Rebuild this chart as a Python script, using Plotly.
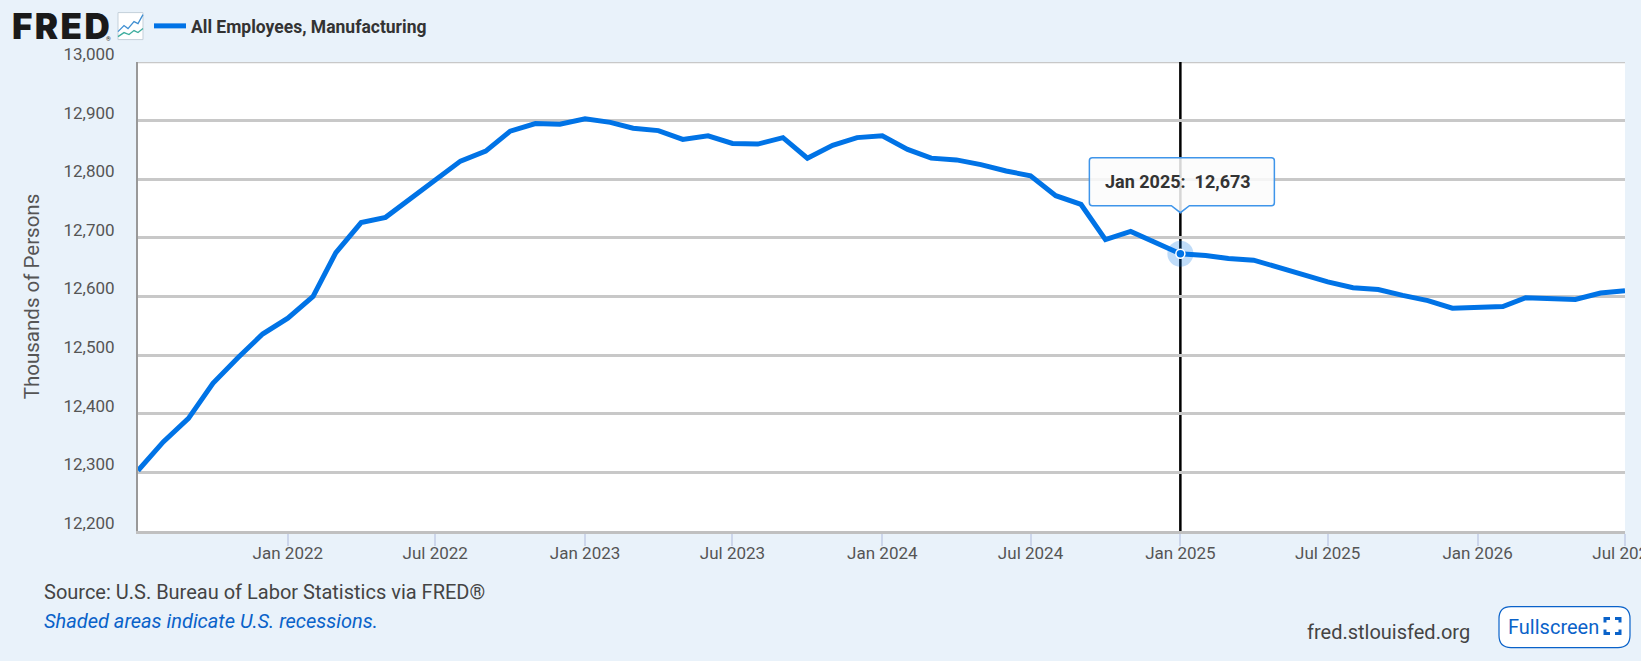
import plotly.graph_objects as go

W, H = 1641, 661
L, R, T, B = 138, 1625, 62.4, 531.4

months = [
    "2021-07-01", "2021-08-01", "2021-09-01", "2021-10-01", "2021-11-01", "2021-12-01",
    "2022-01-01", "2022-02-01", "2022-03-01", "2022-04-01", "2022-05-01", "2022-06-01",
    "2022-07-01", "2022-08-01", "2022-09-01", "2022-10-01", "2022-11-01", "2022-12-01",
    "2023-01-01", "2023-02-01", "2023-03-01", "2023-04-01", "2023-05-01", "2023-06-01",
    "2023-07-01", "2023-08-01", "2023-09-01", "2023-10-01", "2023-11-01", "2023-12-01",
    "2024-01-01", "2024-02-01", "2024-03-01", "2024-04-01", "2024-05-01", "2024-06-01",
    "2024-07-01", "2024-08-01", "2024-09-01", "2024-10-01", "2024-11-01", "2024-12-01",
    "2025-01-01", "2025-02-01", "2025-03-01", "2025-04-01", "2025-05-01", "2025-06-01",
    "2025-07-01", "2025-08-01", "2025-09-01", "2025-10-01", "2025-11-01", "2025-12-01",
    "2026-01-01", "2026-02-01", "2026-03-01", "2026-04-01", "2026-05-01", "2026-06-01",
    "2026-07-01",
]
employees = [
    12303, 12352, 12392, 12452, 12496, 12536,
    12563, 12600, 12675, 12726, 12735, 12767,
    12799, 12831, 12848, 12882, 12895, 12894,
    12903, 12897, 12887, 12883, 12868, 12874,
    12861, 12860, 12871, 12836, 12858, 12871,
    12874, 12851, 12836, 12833, 12825, 12814,
    12806, 12772, 12757, 12697, 12711, 12693,
    12673, 12670, 12665, 12662, 12650, 12636,
    12625, 12615, 12612, 12602, 12593, 12580,
    12582, 12583, 12598, 12597, 12595, 12606,
    12610,
]

xtick_vals = ["2022-01-01", "2022-07-01", "2023-01-01", "2023-07-01", "2024-01-01",
              "2024-07-01", "2025-01-01", "2025-07-01", "2026-01-01", "2026-07-01"]
xtick_text = ["Jan 2022", "Jul 2022", "Jan 2023", "Jul 2023", "Jan 2024",
              "Jul 2024", "Jan 2025", "Jul 2025", "Jan 2026", "Jul 2026"]
ytick_vals = [12200, 12300, 12400, 12500, 12600, 12700, 12800, 12900, 13000]

picked_month = "2025-01-01"
picked_value = employees[months.index(picked_month)]

BG = "#e9f2fa"
BLUE = "#0073e6"
LINK = "#0a62c9"
GRID = "#c8c8c8"
FONT = "Roboto"


def px(x):
    return (x - L) / (R - L)


def py(y):
    return (B - y) / (B - T)


def page_text(x, y, text, size=20, color="#444444", anchor="left", family=FONT, weight="normal"):
    return dict(xref="paper", yref="paper", x=px(x), y=py(y), text=text, showarrow=False,
                xanchor=anchor, yanchor="middle",
                font=dict(family=family, size=size, color=color, weight=weight))


def page_shape(path, **kw):
    # path given in page pixels
    parts = []
    for tok in path.split():
        if "," in tok:
            a, b = tok.split(",")
            parts.append(f"{px(float(a)):.5f},{py(float(b)):.5f}")
        else:
            parts.append(tok)
    return dict(type="path", xref="paper", yref="paper", path=" ".join(parts), layer="above", **kw)


fig = go.Figure()
fig.add_trace(go.Scatter(x=months, y=employees, mode="lines", name="All Employees, Manufacturing",
                         line=dict(color=BLUE, width=5)))
fig.add_trace(go.Scatter(x=[picked_month], y=[picked_value], mode="markers", showlegend=False,
                         marker=dict(size=26, color="rgba(0,115,230,0.25)")))
fig.add_trace(go.Scatter(x=[picked_month], y=[picked_value], mode="markers", showlegend=False,
                         marker=dict(size=9, color=BLUE, line=dict(color="white", width=1.5))))

shapes = [
    # plotly drops the gridline at the top of the range
    dict(type="line", xref="paper", yref="y", x0=0, x1=1, y0=ytick_vals[-1], y1=ytick_vals[-1],
         layer="between", line=dict(color=GRID, width=2.5)),
    # crosshair
    dict(type="line", xref="x", yref="paper", x0=picked_month, x1=picked_month, y0=0, y1=1,
         layer="between", line=dict(color="black", width=2.5)),
    # tooltip callout, sized in pixels around the picked point
    dict(type="path", xref="x", yref="y", xsizemode="pixel", ysizemode="pixel",
         xanchor=picked_month, yanchor=picked_value, layer="above",
         path="M -88,48 L -9,48 L 0,41 L 9,48 L 91,48 Q 94,48 94,51 L 94,93 Q 94,96 91,96 "
              "L -88,96 Q -91,96 -91,93 L -91,51 Q -91,48 -88,48 Z",
         fillcolor="rgba(251,251,251,0.85)", line=dict(color="#3f95ea", width=1.5)),
    # fullscreen button
    page_shape("M 1511,607 L 1618,607 Q 1630,607 1630,619 L 1630,636 Q 1630,648 1618,648 "
               "L 1511,648 Q 1499,648 1499,636 L 1499,619 Q 1499,607 1511,607 Z",
               fillcolor="white", line=dict(color=LINK, width=1.2)),
    page_shape("M 1605,623 L 1605,619 L 1610,619", line=dict(color=LINK, width=3)),
    page_shape("M 1615,619 L 1620,619 L 1620,623", line=dict(color=LINK, width=3)),
    page_shape("M 1620,630 L 1620,634 L 1615,634", line=dict(color=LINK, width=3)),
    page_shape("M 1610,634 L 1605,634 L 1605,630", line=dict(color=LINK, width=3)),
    # chart icon next to the logo
    page_shape("M 118,13 L 143,13 L 143,40 L 118,40 Z", fillcolor="white", line=dict(color="#c4d0da", width=1)),
    page_shape("M 118,32 L 124,26 L 128,29 L 134,22 L 138,24 L 143,15", line=dict(color="#3f8fd2", width=1.3)),
    page_shape("M 118,37 L 124,33 L 129,35 L 134,31 L 138,33 L 143,29", line=dict(color="#3fae9f", width=1.3)),
]

annotations = [
    page_text(10, 26, "F\u200aR\u200aE\u200aD", size=35, color="#1a1a1a", family="Inter", weight=900),
    page_text(104, 39, "®", size=6, color="#1a1a1a"),
    page_text(42, 592, "Source: U.S. Bureau of Labor Statistics via FRED®"),
    page_text(42, 621, "<i>Shaded areas indicate U.S. recessions.</i>", color=LINK),
    page_text(1305, 632, "fred.stlouisfed.org"),
    page_text(1506, 627, "Fullscreen", color=LINK),
    dict(xref="x", yref="y", x=picked_month, y=picked_value, xshift=-2, yshift=72, showarrow=False,
         text=f"<b>Jan 2025:&nbsp;&nbsp;{picked_value:,}</b>", font=dict(family=FONT, size=18, color="#333333")),
]

fig.update_layout(
    width=W, height=H,
    margin=dict(l=L, r=W - R, t=T, b=H - B, autoexpand=False),
    paper_bgcolor=BG, plot_bgcolor="white",
    font=dict(family=FONT, size=17, color="#555555"),
    hovermode=False,
    legend=dict(xref="container", yref="container", x=149 / W, y=1 - 8 / H, xanchor="left", yanchor="top",
                orientation="h", itemwidth=32, bgcolor="rgba(0,0,0,0)",
                font=dict(family=FONT, size=17.5, color="#333333", weight="bold")),
    shapes=shapes, annotations=annotations,
    xaxis=dict(type="date", range=[months[0], months[-1]], tickvals=xtick_vals, ticktext=xtick_text,
               showgrid=False, ticks="outside", ticklen=12, tickwidth=2, tickcolor="#ccd6eb",
               ticklabelstandoff=-7, ticklabeloverflow="allow",
               showline=True, linecolor="#c0c0c0", linewidth=2.5, zeroline=False),
    yaxis=dict(range=[12200, 13000], tickvals=ytick_vals, tickformat=",", showgrid=True,
               gridcolor=GRID, gridwidth=2.5, showline=True, linecolor="#999999", linewidth=2,
               zeroline=False, ticks="", ticklabelshift=-8, ticklabelstandoff=18,
               title=dict(text="Thousands of Persons", standoff=18, font=dict(family=FONT, size=20.5, color="#555555"))),
)

fig.write_html("out.html", config=dict(displayModeBar=False),
               post_script="document.body.style.margin='0';document.body.style.background='%s';" % BG)
